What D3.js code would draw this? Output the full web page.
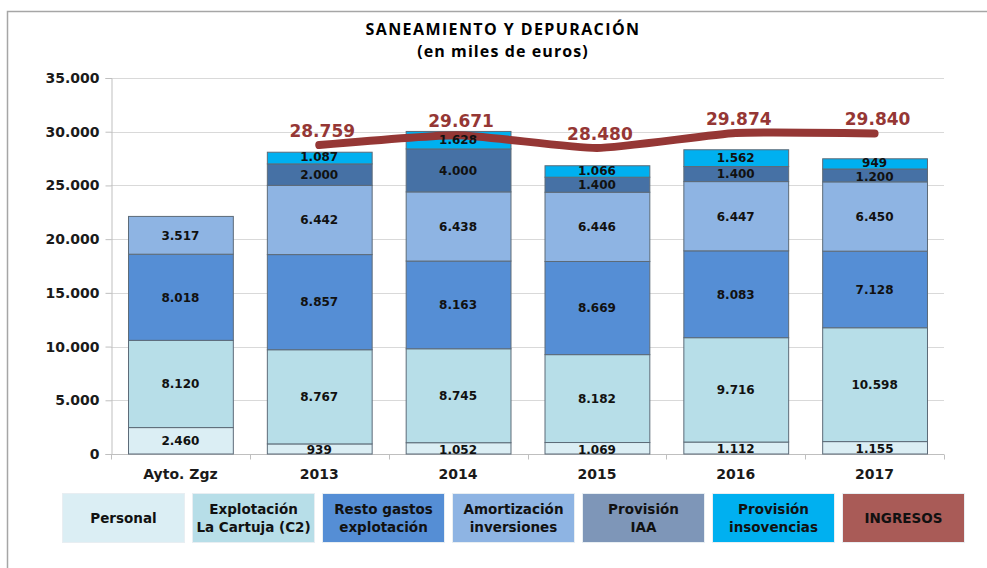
<!DOCTYPE html>
<html>
<head>
<meta charset="utf-8">
<script src="https://cdn.jsdelivr.net/npm/d3@7"></script>
<style>
	body { margin: 0; background: #fff; }
	svg { display: block; }
	text { font-family: "DejaVu Sans", Verdana, sans-serif; font-weight: bold; }
</style>
</head>
<body>
<svg id="chart" width="987" height="568"></svg>
<script>
// Data
let categories = ["Ayto. Zgz", "2013", "2014", "2015", "2016", "2017"]
let seriesNames = ["Personal", "Explotación\nLa Cartuja (C2)", "Resto gastos\nexplotación",
	"Amortización\ninversiones", "Provisión\nIAA", "Provisión\ninsovencias"]
let personal = [2460, 939, 1052, 1069, 1112, 1155]
let cartuja = [8120, 8767, 8745, 8182, 9716, 10598]
let resto = [8018, 8857, 8163, 8669, 8083, 7128]
let amortizacion = [3517, 6442, 6438, 6446, 6447, 6450]
let provisionIAA = [0, 2000, 4000, 1400, 1400, 1200]
let insolvencias = [0, 1087, 1628, 1066, 1562, 949]
let ingresos = [null, 28759, 29671, 28480, 29874, 29840]
let yTicks = [0, 5000, 10000, 15000, 20000, 25000, 30000, 35000]

let barColours = ["#dbeef4", "#b7dee8", "#558ed5", "#8eb4e3", "#4671a5", "#00b0f0"]
let legendColours = ["#dbeef4", "#b7dee8", "#558ed5", "#8eb4e3", "#7e96b8", "#00b0f0"]
let lineColour = "#953735"

let svg = d3.select("#chart")
let margin = {left: 111, right: 43, top: 78, bottom: 114}
let width = 987, height = 568

// Frame
svg.append("path")
	.attr("d", "M7.5,568V11.5H987")
	.attr("fill", "none")
	.attr("stroke", "#a6a6a6")
	.attr("stroke-width", 1.5)

// Title
svg.append("text")
	.attr("x", 503)
	.attr("y", 35)
	.attr("text-anchor", "middle")
	.style("font-family", "'Open Sans', sans-serif")
	.style("font-size", "16px")
	.style("letter-spacing", "1.4px")
	.text("SANEAMIENTO Y DEPURACIÓN")
svg.append("text")
	.attr("x", 503)
	.attr("y", 57)
	.attr("text-anchor", "middle")
	.style("font-family", "'Open Sans', sans-serif")
	.style("font-size", "16px")
	.style("letter-spacing", "1.1px")
	.text("(en miles de euros)")

let x = d3.scaleBand()
	.domain(categories)
	.range([margin.left, width - margin.right])
	.paddingInner(0.245)
	.paddingOuter(0.1225)

let y = d3.scaleLinear()
	.domain([0, 35000])
	.range([height - margin.bottom, margin.top])

let fmt = d3.formatLocale({decimal: ",", thousands: ".", grouping: [3]}).format(",")

// Gridlines
svg.append("g")
	.selectAll("line")
	.data(yTicks.filter(d => d > 0))
	.join("line")
	.attr("x1", margin.left)
	.attr("x2", width - margin.right)
	.attr("y1", d => Math.round(y(d)) + 0.5)
	.attr("y2", d => Math.round(y(d)) + 0.5)
	.attr("stroke", "#d9d9d9")

// Y axis
let yAxis = svg.append("g")
	.attr("transform", `translate(${margin.left + 0.5},0)`)
	.call(d3.axisLeft(y).tickValues(yTicks).tickFormat(fmt).tickSize(6).tickPadding(6))
yAxis.select(".domain").attr("stroke", "#bfbfbf")
yAxis.selectAll(".tick line").attr("stroke", "#bfbfbf")
yAxis.selectAll(".tick text")
	.style("font-size", "14px")
	.style("font-family", "DejaVu Sans, sans-serif")
	.attr("fill", "#1a1a1a")

// X axis: ticks at category boundaries
let xAxisG = svg.append("g")
	.attr("transform", `translate(0,${y(0) + 0.5})`)
xAxisG.append("line")
	.attr("x1", margin.left)
	.attr("x2", width - margin.right)
	.attr("stroke", "#bfbfbf")
let bounds = d3.range(categories.length + 1).map(i => margin.left + i * (width - margin.right - margin.left) / categories.length)
xAxisG.selectAll("line.tick")
	.data(bounds)
	.join("line")
	.attr("class", "tick")
	.attr("x1", d => Math.round(d) + 0.5)
	.attr("x2", d => Math.round(d) + 0.5)
	.attr("y1", 0)
	.attr("y2", 5)
	.attr("stroke", "#bfbfbf")
xAxisG.selectAll("text")
	.data(categories)
	.join("text")
	.attr("x", d => x(d) + x.bandwidth() / 2)
	.attr("y", 24)
	.attr("text-anchor", "middle")
	.style("font-size", "14px")
	.attr("fill", "#1a1a1a")
	.text(d => d)

// Stacked bars
let seriesValues = [personal, cartuja, resto, amortizacion, provisionIAA, insolvencias]
let rows = categories.map((c, i) => {
	let row = {cat: c}
	seriesValues.forEach((s, k) => row[k] = s[i])
	return row
})
let stacked = d3.stack().keys(d3.range(seriesValues.length))(rows)

let bars = svg.append("g")
bars.selectAll("g")
	.data(stacked)
	.join("g")
	.attr("fill", (d, k) => barColours[k])
	.selectAll("rect")
	.data(d => d.filter(p => p[1] - p[0] > 0))
	.join("rect")
	.attr("x", d => x(d.data.cat) + 0.5)
	.attr("width", x.bandwidth())
	.attr("y", d => y(d[1]))
	.attr("height", d => y(d[0]) - y(d[1]))
	.attr("stroke", "#5d6b78")
	.attr("stroke-width", 1)

// Ingresos line
let linePts = categories.map((c, i) => [x(c) + x.bandwidth() / 2, ingresos[i]]).filter(p => p[1] != null)
svg.append("path")
	.datum(linePts)
	.attr("d", d3.line().x(d => d[0]).y(d => y(d[1])).curve(d3.curveCardinal.tension(0.5)))
	.attr("fill", "none")
	.attr("stroke", lineColour)
	.attr("stroke-width", 8)
	.attr("stroke-linecap", "round")
	.attr("stroke-linejoin", "round")

// Segment labels (small top segments nudged apart slightly, as in the original)
let labels = svg.append("g")
stacked.forEach((layer, k) => {
	labels.selectAll(null)
		.data(layer.filter(p => p[1] - p[0] > 0))
		.join("text")
		.attr("x", d => x(d.data.cat) + x.bandwidth() / 2)
		.attr("y", d => {
			let mid = (y(d[0]) + y(d[1])) / 2
			let h = y(d[0]) - y(d[1])
			if (h < 14) mid += (k === 5 ? -1 : 1)
			return mid
		})
		.attr("dy", "0.36em")
		.attr("text-anchor", "middle")
		.style("font-size", "12px")
		.attr("fill", "#111")
		.text(d => fmt(d[1] - d[0]))
})

// Ingresos labels
svg.append("g")
	.selectAll("text")
	.data(linePts)
	.join("text")
	.attr("x", d => d[0] + 3)
	.attr("y", d => y(d[1]) - 8)
	.attr("text-anchor", "middle")
	.style("font-size", "17px")
	.attr("fill", lineColour)
	.text(d => fmt(d[1]))

// Legend
let legendItems = seriesNames.map((n, k) => ({name: n, fill: legendColours[k]}))
legendItems.push({name: "INGRESOS", fill: "#a95b57"})
let legend = svg.append("g")
	.selectAll("g")
	.data(legendItems)
	.join("g")
	.attr("transform", (d, i) => `translate(${62.5 + i * 130},493.5)`)
legend.append("rect")
	.attr("width", 122)
	.attr("height", 49)
	.attr("fill", d => d.fill)
	.attr("stroke", "#e8eef2")
	.attr("stroke-width", 1)
legend.append("text")
	.attr("text-anchor", "middle")
	.style("font-size", "13.5px")
	.attr("fill", "#111")
	.each(function(d) {
		let lines = d.name.split("\n")
		let t = d3.select(this)
		let y0 = lines.length === 1 ? 29 : 20
		lines.forEach((l, j) => {
			t.append("tspan")
				.attr("x", 61)
				.attr("y", y0 + j * 18)
				.text(l)
		})
	})
</script>
</body>
</html>
